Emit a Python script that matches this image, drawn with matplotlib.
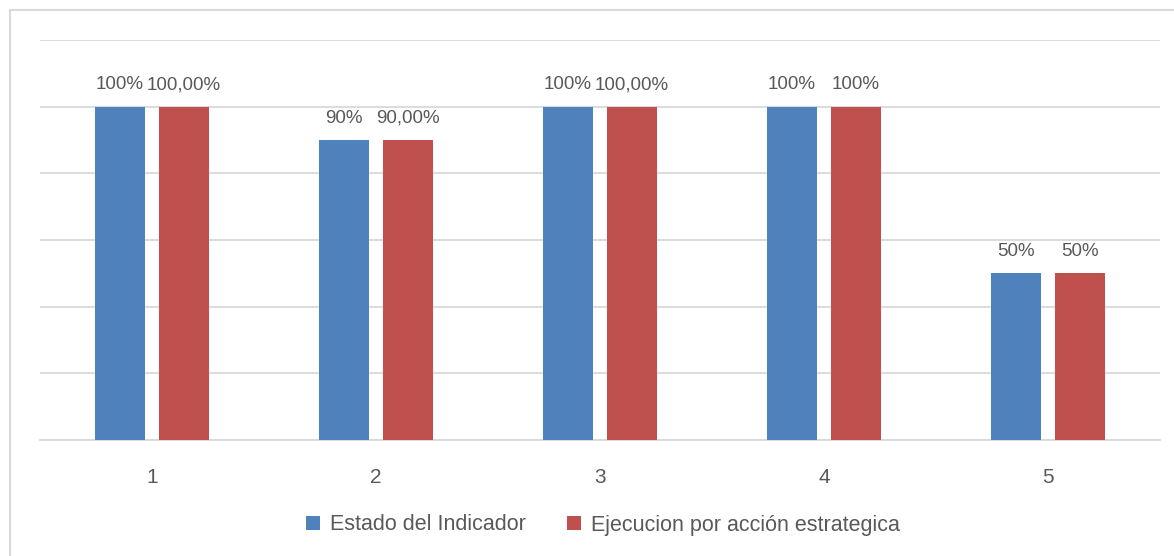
import numpy as np
import matplotlib.pyplot as plt
from matplotlib.patches import Rectangle

categories = ["1", "2", "3", "4", "5"]
estado = [100, 90, 100, 100, 50]
ejecucion = [100, 90, 100, 100, 50]
estado_labels = ["100%", "90%", "100%", "100%", "50%"]
ejecucion_labels = ["100,00%", "90,00%", "100,00%", "100%", "50%"]
series_names = ["Estado del Indicador", "Ejecucion por acción estrategica"]

plt.rcParams['font.family'] = ['Liberation Sans Narrow', 'Liberation Sans', 'DejaVu Sans']
text_color = '#595959'

fig = plt.figure(figsize=(11.74, 5.56), dpi=100)
ax = fig.add_axes([40 / 1174, 116 / 556, 1120 / 1174, 400 / 556])

# marco del grafico
fig.patches.append(Rectangle((10 / 1174, -0.1), 1.2, (556 - 10) / 556 + 0.1,
                             transform=fig.transFigure, fill=False,
                             edgecolor='#d9d9d9', linewidth=1.5))

x = np.arange(len(categories))
w = 0.223
off = 0.143
b1 = ax.bar(x - off, estado, w, color='#4F81BD', label=series_names[0], zorder=3)
b2 = ax.bar(x + off, ejecucion, w, color='#C0504D', label=series_names[1], zorder=3)

for rect, lab in zip(b1, estado_labels):
    ax.text(rect.get_x() + rect.get_width() / 2, rect.get_height() + 4, lab,
            ha='center', va='bottom', fontsize=13.5, color=text_color)
for rect, lab in zip(b2, ejecucion_labels):
    ax.text(rect.get_x() + rect.get_width() / 2, rect.get_height() + 4, lab,
            ha='center', va='bottom', fontsize=13.5, color=text_color)

ax.set_xlim(-0.5, len(categories) - 0.5)
ax.set_ylim(0, 120)
ax.set_yticks(np.arange(0, 121, 20))
ax.set_yticklabels([])
ax.tick_params(axis='y', length=0)
ax.yaxis.grid(True, color='#d9d9d9', linewidth=1.3, zorder=0)
ax.set_xticks(x)
ax.set_xticklabels(categories, fontsize=15, color=text_color)
ax.tick_params(axis='x', length=0, pad=20)
for s in ['top', 'right', 'left']:
    ax.spines[s].set_visible(False)
ax.spines['bottom'].set_color('#d9d9d9')
ax.spines['bottom'].set_linewidth(1.3)

fig.legend(loc='center', bbox_to_anchor=(603 / 1174, 1 - 525 / 556), ncol=2, frameon=False,
           fontsize=15.5, labelcolor=text_color, handlelength=0.65, handleheight=0.65,
           handletextpad=0.45, columnspacing=1.9)

plt.savefig('out.png', dpi=100)
